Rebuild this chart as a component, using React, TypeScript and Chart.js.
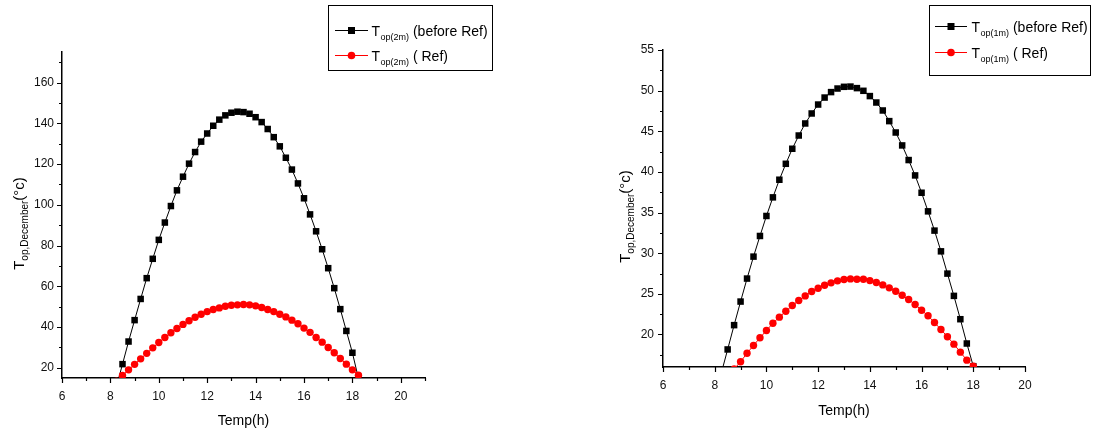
import { useEffect, useRef } from "react";
import { Chart, registerables } from "chart.js";

Chart.register(...registerables);

// Quarter-hour sampling times (h), 2 m collector
const hours2m = [
  8.25, 8.5, 8.75, 9, 9.25, 9.5, 9.75, 10, 10.25, 10.5, 10.75, 11, 11.25, 11.5,
  11.75, 12, 12.25, 12.5, 12.75, 13, 13.25, 13.5, 13.75, 14, 14.25, 14.5, 14.75,
  15, 15.25, 15.5, 15.75, 16, 16.25, 16.5, 16.75, 17, 17.25, 17.5, 17.75, 18, 18.25,
];

// T_op(2m) before reflector (°C)
const before2m = [
  10.8, 21.8, 32.9, 43.4, 53.8, 64.0, 73.5, 82.8, 91.3, 99.4, 107.1, 113.8, 120.2,
  125.9, 131.0, 135.0, 138.8, 141.8, 143.9, 145.2, 145.7, 145.5, 144.7, 143.0, 140.6,
  137.2, 133.2, 128.7, 123.1, 117.3, 110.5, 103.2, 95.3, 87.0, 78.2, 68.9, 59.1, 48.8,
  38.1, 27.4, 14.8,
];

// T_op(2m) with reflector (°C)
const ref2m = [
  13.4, 16.2, 19.0, 21.7, 24.4, 27.1, 29.8, 32.4, 34.9, 37.2, 39.3, 41.3, 43.1, 44.8,
  46.3, 47.6, 48.6, 49.4, 50.2, 50.7, 50.9, 51.1, 50.9, 50.4, 49.6, 48.6, 47.6, 46.3,
  45.0, 43.4, 41.6, 39.5, 37.4, 34.9, 32.6, 30.0, 27.4, 24.6, 21.8, 19.0, 16.4,
];

// Quarter-hour sampling times (h), 1 m collector
const hours1m = [
  8.25, 8.5, 8.75, 9, 9.25, 9.5, 9.75, 10, 10.25, 10.5, 10.75, 11, 11.25, 11.5,
  11.75, 12, 12.25, 12.5, 12.75, 13, 13.25, 13.5, 13.75, 14, 14.25, 14.5, 14.75,
  15, 15.25, 15.5, 15.75, 16, 16.25, 16.5, 16.75, 17, 17.25, 17.5, 17.75, 18,
];

// T_op(1m) before reflector (°C)
const before1m = [
  15.2, 18.16, 21.15, 24.05, 26.88, 29.58, 32.12, 34.58, 36.87, 39.04, 41.0, 42.85,
  44.48, 45.96, 47.19, 48.29, 49.15, 49.82, 50.26, 50.47, 50.5, 50.31, 49.98, 49.33,
  48.54, 47.56, 46.25, 44.85, 43.26, 41.46, 39.57, 37.44, 35.15, 32.78, 30.23, 27.49,
  24.75, 21.88, 18.89, 16.1,
];

// T_op(1m) with reflector (°C)
const ref1m = [
  13.3, 14.5, 15.75, 16.64, 17.7, 18.65, 19.59, 20.49, 21.39, 22.13, 22.86, 23.56,
  24.18, 24.75, 25.28, 25.69, 26.06, 26.35, 26.6, 26.76, 26.84, 26.8, 26.8, 26.63,
  26.39, 26.1, 25.74, 25.32, 24.83, 24.3, 23.69, 22.99, 22.3, 21.47, 20.61, 19.72,
  18.81, 17.83, 16.84, 16.1,
];

// Axis tick positions (every tick gets a mark, labels on the majors)
const xTicksLeft = [6, 7, 8, 9, 10, 11, 12, 13, 14, 15, 16, 17, 18, 19, 20, 21];
const yTicksLeft = [20, 30, 40, 50, 60, 70, 80, 90, 100, 110, 120, 130, 140, 150, 160, 170];
const xTicksRight = [6, 7, 8, 9, 10, 11, 12, 13, 14, 15, 16, 17, 18, 19, 20];
const yTicksRight = [
  17.5, 20, 22.5, 25, 27.5, 30, 32.5, 35, 37.5, 40, 42.5, 45, 47.5, 50, 52.5, 55,
];

const legendLabels = [" (before Ref)", " ( Ref)"];

const FONT = '"Liberation Sans", Arial, Helvetica, sans-serif';
const HEIGHT = 435;
const AXIS_W = 1.5;

type Panel = {
  width: number;
  area: { left: number; top: number; right: number; bottom: number };
  xMin: number;
  xMax: number;
  xTicks: number[];
  yMin: number;
  yMax: number;
  yTicks: number[];
  yMajor: number;
  yTickPad: number;
  xTitlePad: number;
  yTitle: { baseX: number; centerY: number };
  legend: {
    box: [number, number, number, number];
    rows: [number, number];
    lineL: number;
    lineR: number;
    textX: number;
  };
  sub: string;
  hours: number[];
  before: number[];
  withRef: number[];
};

const isMultiple = (v: number, step: number) =>
  Math.abs(v / step - Math.round(v / step)) < 1e-6;

function buildPanel(canvas: HTMLCanvasElement, p: Panel) {
  const decor = {
    id: "decor",
    afterDraw(chart: any) {
      const ctx: CanvasRenderingContext2D = chart.ctx;
      const xs = chart.scales.x;
      const ys = chart.scales.y;
      const { left, bottom } = chart.chartArea;
      ctx.save();

      // outward tick marks, long on majors
      ctx.strokeStyle = "#000";
      ctx.lineWidth = 1.2;
      ctx.beginPath();
      for (const v of p.xTicks) {
        const px = Math.round(xs.getPixelForValue(v)) + 0.5;
        ctx.moveTo(px, bottom);
        ctx.lineTo(px, bottom + (isMultiple(v, 2) ? 5 : 3));
      }
      for (const v of p.yTicks) {
        const py = Math.round(ys.getPixelForValue(v)) + 0.5;
        ctx.moveTo(left, py);
        ctx.lineTo(left - (isMultiple(v, p.yMajor) ? 5 : 3), py);
      }
      ctx.stroke();

      // rotated y-axis title with subscript
      ctx.save();
      ctx.translate(p.yTitle.baseX, p.yTitle.centerY);
      ctx.rotate(-Math.PI / 2);
      ctx.fillStyle = "#000";
      ctx.textAlign = "left";
      ctx.textBaseline = "alphabetic";
      const big = `15px ${FONT}`;
      const small = `10px ${FONT}`;
      ctx.font = big;
      const wT = ctx.measureText("T").width;
      const wC = ctx.measureText("(°c)").width;
      ctx.font = small;
      const wS = ctx.measureText("op,December").width;
      const x0 = -(wT + wS + wC) / 2;
      ctx.font = big;
      ctx.fillText("T", x0, 0);
      ctx.font = small;
      ctx.fillText("op,December", x0 + wT, 4);
      ctx.font = big;
      ctx.fillText("(°c)", x0 + wT + wS, 0);
      ctx.restore();

      // legend box
      const L = p.legend;
      ctx.strokeStyle = "#000";
      ctx.lineWidth = 1;
      ctx.strokeRect(L.box[0] + 0.5, L.box[1] + 0.5, L.box[2] - L.box[0], L.box[3] - L.box[1]);
      const colors = ["#000000", "#ff0000"];
      L.rows.forEach((y, i) => {
        ctx.strokeStyle = colors[i];
        ctx.lineWidth = 1;
        ctx.beginPath();
        ctx.moveTo(L.lineL, y + 0.5);
        ctx.lineTo(L.lineR, y + 0.5);
        ctx.stroke();
        const mx = (L.lineL + L.lineR) / 2;
        ctx.fillStyle = colors[i];
        if (i === 0) {
          ctx.fillRect(mx - 3.5, y - 3, 7, 7);
        } else {
          ctx.beginPath();
          ctx.arc(mx, y + 0.5, 3.8, 0, Math.PI * 2);
          ctx.fill();
        }
        ctx.fillStyle = "#000";
        ctx.font = `14px ${FONT}`;
        const baseY = y + 6;
        ctx.fillText("T", L.textX, baseY);
        const tW = ctx.measureText("T").width;
        ctx.font = `9px ${FONT}`;
        ctx.fillText(p.sub, L.textX + tW + 0.5, baseY + 4);
        const sW = ctx.measureText(p.sub).width;
        ctx.font = `14px ${FONT}`;
        ctx.fillText(legendLabels[i], L.textX + tW + 0.5 + sW, baseY);
      });

      ctx.restore();
    },
  };

  return new Chart(canvas, {
    type: "line",
    data: {
      datasets: [
        {
          label: "before",
          data: p.hours.map((h, i) => ({ x: h, y: p.before[i] })),
          borderColor: "#000000",
          borderWidth: 1,
          pointStyle: "rect",
          pointRadius: 4.6,
          pointBackgroundColor: "#000000",
          pointBorderWidth: 0,
          tension: 0,
          order: 2,
        },
        {
          label: "ref",
          data: p.hours.map((h, i) => ({ x: h, y: p.withRef[i] })),
          borderColor: "#ff0000",
          borderWidth: 1,
          pointStyle: "circle",
          pointRadius: 3.7,
          pointBackgroundColor: "#ff0000",
          pointBorderWidth: 0,
          tension: 0,
          order: 1,
        },
      ],
    },
    options: {
      responsive: false,
      animation: false,
      devicePixelRatio: 1,
      events: [],
      layout: {
        padding: { left: 0, top: p.area.top, right: p.width - p.area.right, bottom: 0 },
      },
      plugins: { legend: { display: false }, tooltip: { enabled: false } },
      scales: {
        x: {
          type: "linear",
          min: p.xMin,
          max: p.xMax,
          afterBuildTicks: (s: any) => {
            s.ticks = p.xTicks.map((v) => ({ value: v }));
          },
          afterFit: (s: any) => {
            s.height = HEIGHT - p.area.bottom;
          },
          grid: { display: false, drawTicks: false },
          border: { display: true, color: "#000", width: AXIS_W },
          ticks: {
            autoSkip: false,
            maxRotation: 0,
            minRotation: 0,
            padding: 11,
            color: "#111",
            font: { family: FONT, size: 12 },
            callback: (v: any) => (isMultiple(Number(v), 2) ? String(v) : ""),
          },
          title: {
            display: true,
            text: "Temp(h)",
            color: "#000",
            font: { family: FONT, size: 14 },
            padding: { top: 0, bottom: p.xTitlePad },
          },
        },
        y: {
          type: "linear",
          min: p.yMin,
          max: p.yMax,
          afterBuildTicks: (s: any) => {
            s.ticks = p.yTicks.map((v) => ({ value: v }));
          },
          afterFit: (s: any) => {
            s.width = p.area.left;
          },
          grid: { display: false, drawTicks: false },
          border: { display: true, color: "#000", width: AXIS_W },
          ticks: {
            autoSkip: false,
            padding: p.yTickPad,
            color: "#111",
            font: { family: FONT, size: 12 },
            callback: (v: any) => (isMultiple(Number(v), p.yMajor) ? String(v) : ""),
          },
        },
      },
    },
    plugins: [decor],
  } as any);
}

const leftPanel: Panel = {
  width: 548,
  area: { left: 62, top: 52, right: 425, bottom: 378 },
  xMin: 6,
  xMax: 21,
  xTicks: xTicksLeft,
  yMin: 15,
  yMax: 175,
  yTicks: yTicksLeft,
  yMajor: 20,
  yTickPad: 8,
  xTitlePad: 5.6,
  yTitle: { baseX: 24, centerY: 223.5 },
  legend: { box: [328, 5, 492, 70], rows: [30, 55], lineL: 335, lineR: 368, textX: 371.5 },
  sub: "op(2m)",
  hours: hours2m,
  before: before2m,
  withRef: ref2m,
};

const rightPanel: Panel = {
  width: 549,
  area: { left: 115, top: 50, right: 477, bottom: 367 },
  xMin: 6,
  xMax: 20,
  xTicks: xTicksRight,
  yMin: 16,
  yMax: 55,
  yTicks: yTicksRight,
  yMajor: 5,
  yTickPad: 9,
  xTitlePad: 15.6,
  yTitle: { baseX: 82, centerY: 216.5 },
  legend: { box: [381, 5, 542, 75], rows: [26, 52], lineL: 387, lineR: 419, textX: 423.5 },
  sub: "op(1m)",
  hours: hours1m,
  before: before1m,
  withRef: ref1m,
};

export default function App() {
  const leftRef = useRef<HTMLCanvasElement>(null);
  const rightRef = useRef<HTMLCanvasElement>(null);

  useEffect(() => {
    const charts = [
      buildPanel(leftRef.current as HTMLCanvasElement, leftPanel),
      buildPanel(rightRef.current as HTMLCanvasElement, rightPanel),
    ];
    return () => charts.forEach((c) => c.destroy());
  }, []);

  return (
    <div
      style={{
        position: "absolute",
        left: 0,
        top: 0,
        width: 1097,
        height: HEIGHT,
        background: "#fff",
      }}
    >
      <canvas
        ref={leftRef}
        width={leftPanel.width}
        height={HEIGHT}
        style={{ position: "absolute", left: 0, top: 0 }}
      />
      <canvas
        ref={rightRef}
        width={rightPanel.width}
        height={HEIGHT}
        style={{ position: "absolute", left: leftPanel.width, top: 0 }}
      />
    </div>
  );
}
